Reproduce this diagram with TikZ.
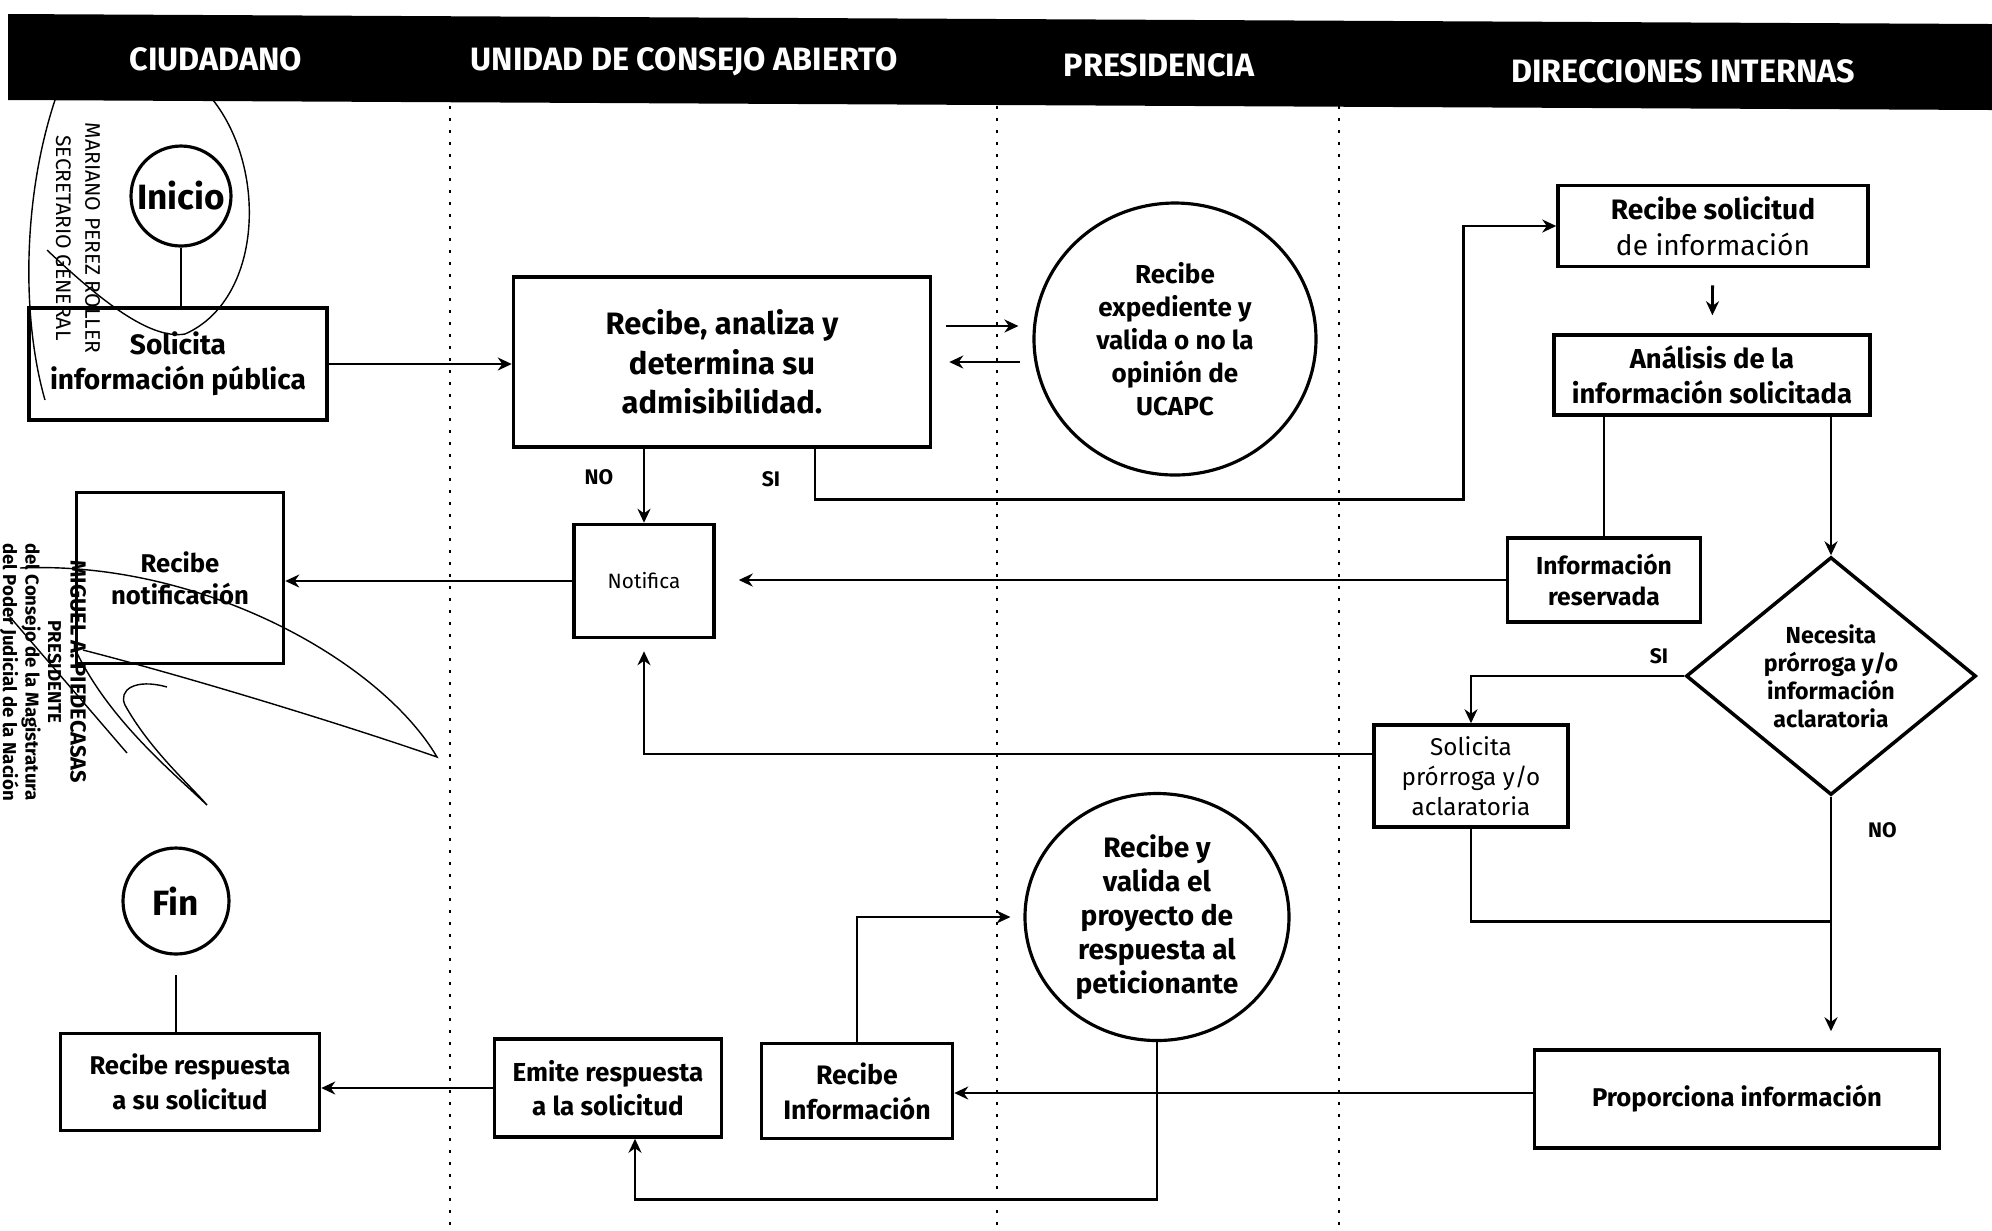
\documentclass[tikz,border=0pt]{standalone}
\usepackage{fontspec}
\setmainfont{Fira Sans}
\usetikzlibrary{positioning}
\usetikzlibrary{shapes.geometric}
\usetikzlibrary{arrows.meta}
\usetikzlibrary{calc}

\begin{document}
\begin{tikzpicture}[
		% one unit = one pixel of the scanned sheet
		x=0.1mm, y=-0.1mm,
		proc/.style={draw, line width=1pt, align=center, inner sep=1pt, font=\fontsize{7.2}{9.5}\selectfont\bfseries},
		term/.style={draw, circle, line width=0.9pt, inner sep=0pt, font=\fontsize{10}{12}\selectfont\bfseries},
		oval/.style={draw, ellipse, line width=0.9pt, align=center, inner sep=0pt, font=\fontsize{7.4}{9.4}\selectfont\bfseries},
		decision/.style={draw, diamond, line width=1pt, align=center, inner sep=0pt, font=\fontsize{6.6}{8}\selectfont\bfseries},
		lane/.style={text=white, font=\fontsize{9.2}{10}\selectfont\bfseries},
		lbl/.style={inner sep=1pt, font=\fontsize{6}{7}\selectfont\bfseries},
		stamp/.style={rotate=-90, align=center, inner sep=0pt},
		arrow/.style={-{Stealth[length=1.4mm,width=1.3mm]}, line width=0.8pt},
		link/.style={line width=0.8pt},
		sep/.style={line width=0.6pt, dash pattern=on 0.3mm off 0.9mm},
		sig/.style={line width=0.4pt},
	]
	\useasboundingbox (0,0) rectangle (1992,1230);

	% Header band and lanes
	\fill (8,14) -- (1992,24) -- (1992,110) -- (8,100) -- cycle;
	\node[lane] (hciudadano) at (216,59) {CIUDADANO};
	\node[lane] (hunidad) at (684,62) {UNIDAD DE CONSEJO ABIERTO};
	\node[lane] (hpresidencia) at (1159,65) {PRESIDENCIA};
	\node[lane] (hdirecciones) at (1683,71) {DIRECCIONES INTERNAS};
	\foreach \x in {450,997,1339}
		\draw[sep] (\x,106) -- (\x,1230);

	% Ciudadano
	\node[term, minimum size=10mm] (inicio) at (181,196) {Inicio};
	\node[proc, minimum width=29.8mm, minimum height=11.2mm, font=\fontsize{8}{10}\selectfont\bfseries] (solicita) at (178,364) {Solicita\\información pública};
	\node[proc, minimum width=20.7mm, minimum height=17.1mm, font=\fontsize{7.3}{9}\selectfont\bfseries] (recnotif) at (180,578) {Recibe\\notificación};
	\node[term, minimum size=10.6mm] (fin) at (176,901) {Fin};
	\node[proc, minimum width=25.9mm, minimum height=9.7mm, font=\fontsize{7.3}{10}\selectfont\bfseries] (recresp) at (190,1082) {Recibe respuesta\\a su solicitud};

	% Unidad de Consejo Abierto
	\node[proc, minimum width=41.7mm, minimum height=17mm, font=\fontsize{8.8}{11.2}\selectfont\bfseries] (recibe) at (722,362) {Recibe, analiza y\\determina su\\admisibilidad.};
	\node[proc, minimum width=14mm, minimum height=11.3mm, font=\fontsize{5.9}{7}\selectfont] (notifica) at (644,581) {Notifica};
	\node[proc, minimum width=22.7mm, minimum height=9.8mm, font=\fontsize{7.4}{9.8}\selectfont\bfseries] (emite) at (608,1088) {Emite respuesta\\a la solicitud};
	\node[proc, minimum width=19.1mm, minimum height=9.5mm, font=\fontsize{7.6}{10}\selectfont\bfseries] (recinfo) at (857,1091) {Recibe\\Información};

	% Presidencia
	\node[oval, minimum width=28.2mm, minimum height=27.2mm] (ucapc) at (1175,339) {Recibe\\expediente y\\valida o no la\\opinión de\\UCAPC};
	\node[oval, minimum width=26.4mm, minimum height=24.7mm, font=\fontsize{8}{9.7}\selectfont\bfseries] (proyecto) at (1157,917) {Recibe y\\valida el\\proyecto de\\respuesta al\\peticionante};

	% Direcciones internas
	\node[proc, minimum width=31mm, minimum height=8.1mm, font=\fontsize{8}{10.2}\selectfont] (recsol) at (1713,226) {\textbf{Recibe solicitud}\\de información};
	\node[proc, minimum width=31.6mm, minimum height=8mm, font=\fontsize{7.8}{10}\selectfont\bfseries] (analisis) at (1712,375) {Análisis de la\\información solicitada};
	\node[proc, minimum width=19.3mm, minimum height=8.4mm, font=\fontsize{7}{9}\selectfont\bfseries] (reservada) at (1604,580) {Información\\reservada};
	\node[decision, minimum width=29mm, minimum height=23mm] (necesita) at (1831,676) {Necesita\\prórroga y/o\\información\\aclaratoria};
	\node[proc, minimum width=19.4mm, minimum height=10.2mm, font=\fontsize{6.9}{8.5}\selectfont] (prorroga) at (1471,776) {Solicita\\prórroga y/o\\aclaratoria};
	\node[proc, minimum width=40.5mm, minimum height=9.8mm, font=\fontsize{7.3}{9}\selectfont\bfseries] (proporciona) at (1737,1099) {Proporciona información};

	% Connectors
	\draw[link] (inicio.south) -- (inicio.south |- solicita.north);
	\draw[arrow] (solicita.east) -- (solicita.east -| recibe.west);
	\draw[arrow, shorten <=1.4mm, shorten >=1.4mm] ($(recibe.east)+(0,-36)$) -- ($(recibe.east -| ucapc.west)+(0,-36)$);
	\draw[arrow, shorten <=1.2mm, shorten >=1.7mm] (recibe.east -| ucapc.west) -- (recibe.east);
	\draw[arrow] (notifica.north |- recibe.south) -- node[lbl, left=2.6mm, pos=0.38] (no1) {NO} (notifica.north);
	\draw[arrow] ([xshift=9.3mm]recibe.south) -- node[lbl, left=3mm, pos=0.6] (si1) {SI} ++(0,51) -| ([xshift=-9.3mm]recsol.west) -- (recsol.west);
	\draw[arrow, shorten <=1.7mm, shorten >=1.8mm] (recsol) -- (analisis);
	\draw[link] (reservada.north |- analisis.south) -- (reservada.north);
	\draw[arrow] (necesita.north |- analisis.south) -- (necesita.north);
	\draw[arrow, shorten >=2.3mm] (reservada.west) -- (reservada.west -| notifica.east);
	\draw[arrow] (notifica.west) -- (notifica.west -| recnotif.east);
	\draw[arrow] (necesita.west) -| (prorroga.north);
	\node[lbl, above left=0.8mm and 1.2mm of necesita.west] (si2) {SI};
	\draw[arrow, shorten >=1.2mm] ([yshift=2.2mm]prorroga.west) -| (notifica.south);
	\coordinate (merge) at ($(necesita.south)+(0,125)$);
	\draw[link] (prorroga.south) |- (merge);
	\draw[arrow, shorten >=1.7mm] (necesita.south) -- (necesita.south |- proporciona.north);
	\node[lbl, below right=2.2mm and 3.3mm of necesita.south] (no2) {NO};
	\draw[arrow] ([yshift=0.6mm]proporciona.west) -- ([yshift=0.6mm]proporciona.west -| recinfo.east);
	\draw[arrow, shorten >=1.3mm] (recinfo.north) |- (proyecto.west);
	\draw[arrow] (proyecto.south) -- ++(0,157) -| ([xshift=2.7mm]emite.south);
	\draw[arrow] (emite.west) -- (emite.west -| recresp.east);
	\draw[link, shorten >=1.9mm] (fin.south |- recresp.north) -- (fin.south);

	% Stamps and signatures
	\node[stamp, font=\fontsize{6}{8.3}\selectfont] (sello1) at (78,238) {MARIANO PEREZ ROLLER\\SECRETARIO GENERAL};
	\node[stamp, font=\fontsize{5.3}{6.4}\selectfont\bfseries] (sello2) at (43,672) {{\fontsize{6.2}{7.4}\selectfont MIGUEL A. PIEDECASAS}\\PRESIDENTE\\del Consejo de la Magistratura\\del Poder Judicial de la Nación};
	\draw[sig] (213,100) .. controls (268,170) and (262,300) .. (185,334) .. controls (150,340) and (100,300) .. (47,250);
	\draw[sig] (55,100) .. controls (22,200) and (22,320) .. (45,400);
	\draw[sig] (20,568) .. controls (200,560) and (380,660) .. (437,757) .. controls (360,730) and (200,680) .. (83,650);
	\draw[sig] (167,687) .. controls (135,678) and (118,690) .. (125,705) .. controls (150,750) and (190,785) .. (207,805) .. controls (170,770) and (110,720) .. (77,653);
	\draw[sig] (10,617) -- (127,753);
\end{tikzpicture}
\end{document}
